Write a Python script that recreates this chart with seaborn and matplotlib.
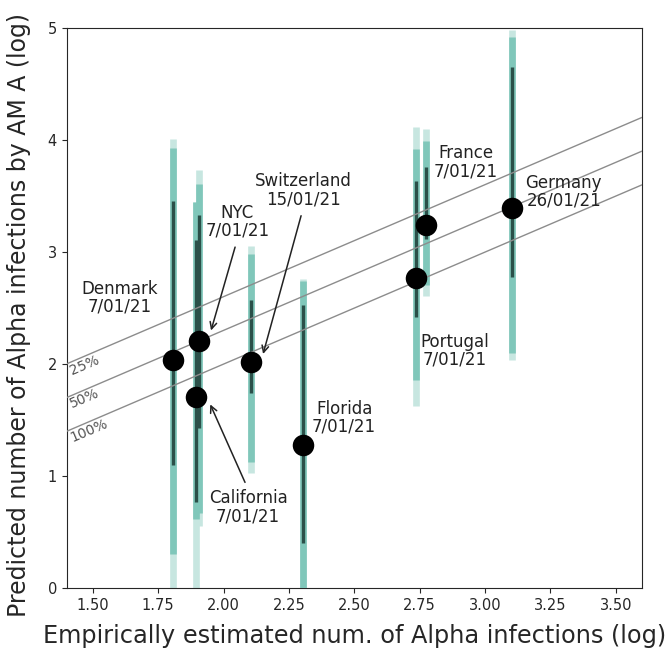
import numpy as np
import pandas as pd
import seaborn as sns
import matplotlib
matplotlib.use("Agg")
import matplotlib.pyplot as plt

# values (log scale)
regions = ["Denmark", "NYC", "California", "Switzerland", "Florida", "Portugal", "France", "Germany"]
dates = ["7/01/21", "7/01/21", "7/01/21", "15/01/21", "7/01/21", "7/01/21", "7/01/21", "26/01/21"]
empirical = [1.805, 1.905, 1.895, 2.105, 2.305, 2.735, 2.773, 3.103]
predicted = [2.04, 2.21, 1.71, 2.02, 1.28, 2.77, 3.24, 3.39]

# credible intervals: outer (lightest), middle, inner (dark)
outer_lo = [-0.1, 0.55, -0.1, 1.03, -0.1, 1.63, 2.61, 2.04]
outer_hi = [4.01, 3.73, 3.45, 3.05, 2.76, 4.12, 4.10, 4.98]
mid_lo = [0.30, 0.67, 0.62, 1.13, -0.1, 1.86, 2.71, 2.10]
mid_hi = [3.93, 3.61, 3.45, 2.98, 2.74, 3.92, 3.99, 4.92]
inner_lo = [1.10, 1.43, 0.77, 1.74, 0.40, 2.42, 3.12, 2.78]
inner_hi = [3.46, 3.33, 3.11, 2.57, 2.53, 3.63, 3.76, 4.65]

# reference lines y = x + log10(1/fraction)
fractions = [0.25, 0.50, 1.00]
fraction_labels = ["25%", "50%", "100%"]

# label placement (data coords) and arrow targets (None = no arrow)
label_x = [1.604, 2.052, 2.094, 2.304, 2.461, 2.884, 2.926, 3.301]
label_y = [2.59, 3.27, 0.72, 3.55, 1.52, 2.12, 3.80, 3.54]
arrow_x = [None, 1.952, 1.949, 2.151, None, None, None, None]
arrow_y = [None, 2.30, 1.64, 2.09, None, None, None, None]

df = pd.DataFrame({"region": regions, "date": dates, "empirical": empirical,
                   "predicted": predicted})

sns.set_style("ticks")
plt.rcParams['font.family'] = ['DejaVu Sans']

fig, ax = plt.subplots(figsize=(6.69, 6.52), dpi=100)
fig.subplots_adjust(left=0.0997, right=0.9596, top=0.957, bottom=0.098)

xlim = (1.4, 3.6)
ax.set_xlim(*xlim)
ax.set_ylim(0, 5)

ax.vlines(df["empirical"], outer_lo, outer_hi, color="#c7e6e0", lw=4.8, zorder=2)
ax.vlines(df["empirical"], mid_lo, mid_hi, color="#80c7ba", lw=4.8, zorder=3)
ax.vlines(df["empirical"], inner_lo, inner_hi, color="#2b5049", lw=2.4, zorder=4)

xs = np.array(xlim)
for frac, lab in zip(fractions, fraction_labels):
    off = np.log10(1 / frac)
    ax.plot(xs, xs + off, color="#8c8c8c", lw=1.0, zorder=5)
    ax.text(1.405, 1.405 + off - 0.01, lab, rotation=23, rotation_mode="anchor",
            ha="left", va="top", fontsize=10, color="#555555", zorder=5)

sns.scatterplot(data=df, x="empirical", y="predicted", color="black", s=240,
                edgecolor="black", linewidth=0, zorder=6, ax=ax)

for i, row in df.iterrows():
    txt = f"{row['region']}\n{row['date']}"
    if arrow_x[i] is None:
        ax.text(label_x[i], label_y[i], txt, ha="center", va="center",
                fontsize=12, color="#222222", linespacing=1.0, zorder=7)
    else:
        # arrow leaves from the text edge facing the point
        rel = (0.5, 0.0) if arrow_y[i] < label_y[i] else (0.5, 1.0)
        ax.annotate(txt, xy=(arrow_x[i], arrow_y[i]), xytext=(label_x[i], label_y[i]),
                    ha="center", va="center", fontsize=12, color="#222222",
                    linespacing=1.0, zorder=7,
                    arrowprops=dict(arrowstyle="->", color="#222222", lw=1.1,
                                    relpos=rel, shrinkA=3, shrinkB=0))

ax.set_xticks([1.5, 1.75, 2.0, 2.25, 2.5, 2.75, 3.0, 3.25, 3.5])
ax.set_yticks([0, 1, 2, 3, 4, 5])
ax.tick_params(labelsize=10.5)
ax.set_xlabel("Empirically estimated num. of Alpha infections (log)", fontsize=17.3,
              labelpad=8)
ax.set_ylabel("Predicted number of Alpha infections by AM A (log)", fontsize=17.0)
ax.yaxis.set_label_coords(-0.062, 0.488)

fig.savefig("out.png", dpi=100)
